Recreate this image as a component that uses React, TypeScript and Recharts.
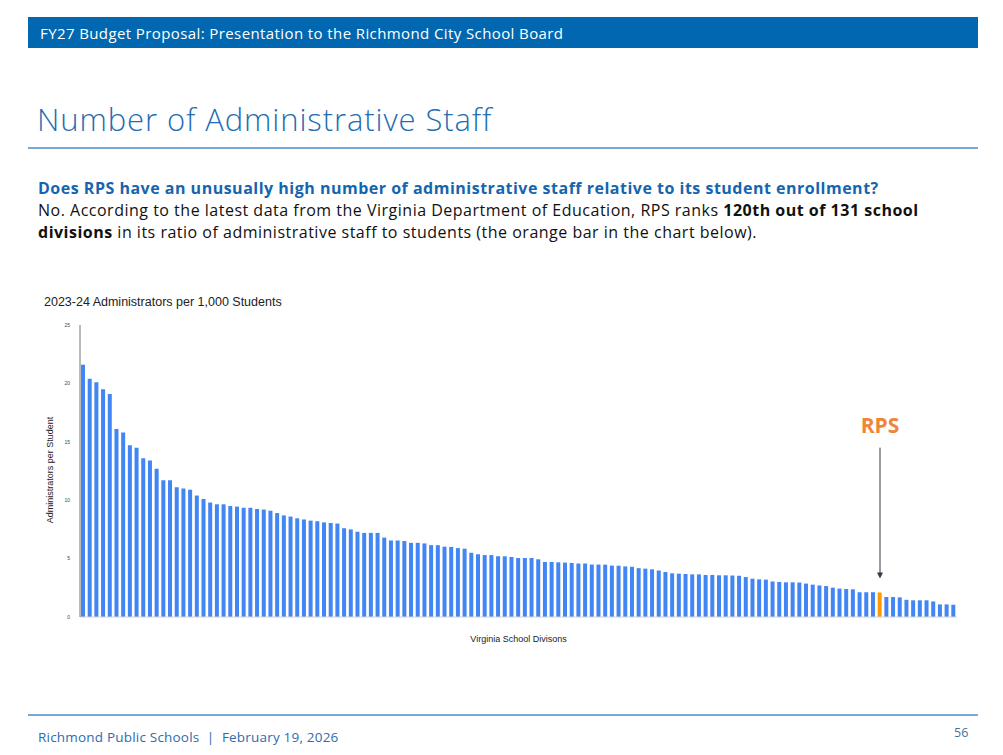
import { BarChart, Bar, Cell, XAxis, YAxis, ReferenceLine } from 'recharts';

// administrators per 1,000 students, sorted high -> low (131 divisions)
const ratios = [
  21.6, 20.4, 20.1, 19.5, 19.1, 16.1, 15.8, 14.7, 14.5, 13.6,
  13.4, 12.7, 11.7, 11.7, 11.1, 11.0, 10.9, 10.4, 10.1, 9.8,
  9.65, 9.65, 9.5, 9.45, 9.35, 9.35, 9.25, 9.2, 9.1, 8.9,
  8.7, 8.6, 8.45, 8.35, 8.25, 8.2, 8.1, 8.05, 8.0, 7.6,
  7.5, 7.3, 7.2, 7.2, 7.2, 6.8, 6.55, 6.55, 6.5, 6.35,
  6.35, 6.3, 6.15, 6.15, 6.02, 6.0, 5.9, 5.85, 5.5, 5.37,
  5.3, 5.3, 5.2, 5.2, 5.14, 5.05, 5.05, 5.05, 4.94, 4.71,
  4.71, 4.68, 4.66, 4.63, 4.58, 4.58, 4.49, 4.49, 4.48, 4.4,
  4.39, 4.33, 4.3, 4.18, 4.14, 4.08, 3.98, 3.85, 3.74, 3.71,
  3.68, 3.65, 3.65, 3.6, 3.6, 3.57, 3.57, 3.55, 3.53, 3.42,
  3.28, 3.22, 3.2, 3.04, 3.0, 2.97, 2.97, 2.95, 2.86, 2.77,
  2.7, 2.65, 2.51, 2.43, 2.4, 2.37, 2.12, 2.12, 2.12, 2.1,
  1.71, 1.71, 1.68, 1.47, 1.43, 1.43, 1.43, 1.33, 1.08, 1.08,
  1.05,
];
const rpsRank = 120;
const yTicks = [0, 5, 10, 15, 20, 25];

const data = ratios.map((v, i) => ({ rank: String(i + 1), value: v }));

const BLUE = '#4285f4';
const ORANGE = '#ff9900';
const font = '"Open Sans", sans-serif';
const arial = '"Liberation Sans", Arial, sans-serif';

const Arrow = (p: any) => {
  const { x1, y1, x2, y2 } = p;
  return (
    <g>
      <line x1={x1} y1={y1} x2={x2} y2={y2 - 4} stroke="#333a44" strokeWidth={1} />
      <path d={`M${x2 - 3},${y2 - 6} L${x2 + 3},${y2 - 6} L${x2},${y2} Z`} fill="#333a44" />
    </g>
  );
};

export default function App() {
  return (
    <div style={{ position: 'absolute', left: 0, top: 0, width: 1003, height: 755, background: '#fff', fontFamily: font }}>
      {/* header band */}
      <div style={{ position: 'absolute', left: 28, top: 17, width: 950, height: 31, background: '#0067b0' }} />
      <div style={{ position: 'absolute', left: 40, top: 23, color: '#fff', fontSize: 15, letterSpacing: 0.4, whiteSpace: 'nowrap' }}>
        FY27 Budget Proposal: Presentation to the Richmond City School Board
      </div>

      <div style={{ position: 'absolute', left: 37, top: 98, color: '#1f6db3', fontSize: 31, letterSpacing: 0.9, whiteSpace: 'nowrap', fontWeight: 300 }}>
        Number of Administrative Staff
      </div>
      <div style={{ position: 'absolute', left: 28, top: 147, width: 950, height: 2, background: '#7aa7d6' }} />

      <div style={{ position: 'absolute', left: 38, top: 177, fontSize: 16, letterSpacing: 0.5, lineHeight: '22px', whiteSpace: 'nowrap' }}>
        <div style={{ color: '#1565ae', fontWeight: 700 }}>
          Does RPS have an unusually high number of administrative staff relative to its student enrollment?
        </div>
        <div style={{ color: '#111' }}>
          No. According to the latest data from the Virginia Department of Education, RPS ranks{' '}
          <b>120th out of 131 school</b>
        </div>
        <div style={{ color: '#111' }}>
          <b>divisions</b> in its ratio of administrative staff to students (the orange bar in the chart below).
        </div>
      </div>

      <div style={{ position: 'absolute', left: 44, top: 295, fontFamily: arial, fontSize: 12.5, color: '#222', whiteSpace: 'nowrap' }}>
        2023-24 Administrators per 1,000 Students
      </div>
      <div
        style={{
          position: 'absolute', left: 50, top: 470, fontFamily: arial, fontSize: 9,
          color: '#222', whiteSpace: 'nowrap', transform: 'translate(-50%, -50%) rotate(-90deg)',
        }}
      >
        Administrators per Student
      </div>

      <div style={{ position: 'absolute', left: 0, top: 290 }}>
        <BarChart width={1003} height={360} data={data} margin={{ top: 35, right: 46, left: 60, bottom: 8 }} barSize={4}>
          <XAxis
            dataKey="rank"
            tick={false}
            tickLine={false}
            axisLine={{ stroke: '#d4d4d4' }}
            height={25}
            label={{ value: 'Virginia School Divisons', position: 'insideBottom', offset: 0, fontSize: 9, fill: '#222', fontFamily: arial }}
          />
          <YAxis
            domain={[0, 25]}
            ticks={yTicks}
            width={20}
            tickLine={false}
            tickMargin={4}
            axisLine={{ stroke: '#777' }}
            tick={{ fontSize: 5, fill: '#444', fontFamily: arial }}
          />
          <Bar dataKey="value" isAnimationActive={false}>
            {data.map((d, i) => (
              <Cell key={d.rank} fill={i + 1 === rpsRank ? ORANGE : BLUE} />
            ))}
          </Bar>
          <ReferenceLine
            segment={[{ x: String(rpsRank), y: 14.5 }, { x: String(rpsRank), y: 3.3 }]}
            shape={Arrow}
            label={{ value: 'RPS', position: 'top', offset: 15, fill: '#f0843a', fontSize: 21, fontWeight: 700, fontFamily: font }}
          />
        </BarChart>
      </div>

      <div style={{ position: 'absolute', left: 28, top: 714, width: 950, height: 2, background: '#7aa7d6' }} />
      <div style={{ position: 'absolute', left: 38, top: 728, color: '#2b6cb0', fontSize: 13.5, letterSpacing: 0.2, whiteSpace: 'nowrap' }}>
        Richmond Public Schools&nbsp; |&nbsp; February 19, 2026
      </div>
      <div style={{ position: 'absolute', left: 954, top: 724, color: '#4a6f99', fontSize: 12.5 }}>56</div>
    </div>
  );
}
